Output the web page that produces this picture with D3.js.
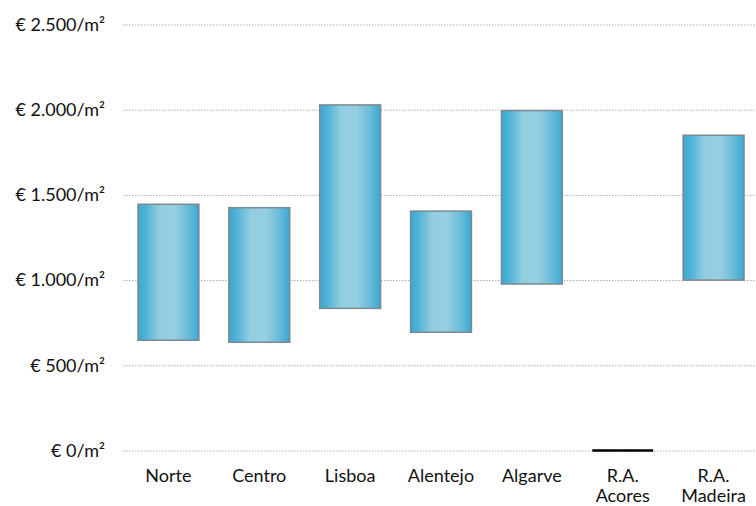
<!DOCTYPE html>
<html>
<head>
<meta charset="utf-8">
<script src="https://cdn.jsdelivr.net/npm/d3@7"></script>
<style>
  html, body { margin: 0; padding: 0; background: #fff; }
  svg text { font-family: Lato, "Open Sans", sans-serif; fill: #111; }
</style>
</head>
<body>
<svg id="chart" width="756" height="506"></svg>
<script>
// Price ranges per region (€/m²)
const regions = ["Norte", "Centro", "Lisboa", "Alentejo", "Algarve", "R.A. Acores", "R.A. Madeira"];
const regionLines = [["Norte"], ["Centro"], ["Lisboa"], ["Alentejo"], ["Algarve"], ["R.A.", "Acores"], ["R.A.", "Madeira"]];
const minPrice = [647, 635, 834, 694, 977, 0, 1000];
const maxPrice = [1445, 1425, 2028, 1405, 1995, 0, 1850];
const tickValues = [0, 500, 1000, 1500, 2000, 2500];
const tickLabels = ["€ 0/m²", "€ 500/m²", "€ 1.000/m²", "€ 1.500/m²", "€ 2.000/m²", "€ 2.500/m²"];

const svg = d3.select("#chart");

const x = d3.scaleBand().domain(regions).range([123, 759]).paddingInner(0.33).paddingOuter(0.165);
const y = d3.scaleLinear().domain([0, 2500]).range([450.5, 24.5]);

// Horizontal gradient for the bars
const grad = svg.append("defs").append("linearGradient")
  .attr("id", "barGrad").attr("x1", "0%").attr("x2", "100%").attr("y1", "0%").attr("y2", "0%");
[["0%", "#3aa8d1"], ["12%", "#4fb1d6"], ["35%", "#92cde0"], ["60%", "#96cfe1"], ["82%", "#6cbcd9"], ["100%", "#3aa8d1"]]
  .forEach(([o, c]) => grad.append("stop").attr("offset", o).attr("stop-color", c));

// Gridlines and y labels
const yAxis = d3.axisLeft(y).tickValues(tickValues)
  .tickFormat((d, i) => tickLabels[i]).tickSize(0).tickPadding(18);
const gy = svg.append("g").attr("transform", "translate(123,0)").call(yAxis);
gy.select(".domain").remove();
gy.selectAll(".tick text").attr("font-size", 18).attr("fill", "#111")
  .style("font-family", "Lato, 'Open Sans', sans-serif");
gy.selectAll(".tick").append("line")
  .attr("x1", 0).attr("x2", 756 - 123)
  .attr("stroke", "#adadad").attr("stroke-width", 1).attr("stroke-dasharray", "1.5,1.5");

// Range bars
const data = regions.map((r, i) => ({ r, lo: minPrice[i], hi: maxPrice[i] }));
svg.append("g").selectAll("rect")
  .data(data.filter(d => d.hi > d.lo))
  .join("rect")
  .attr("x", d => x(d.r))
  .attr("width", x.bandwidth())
  .attr("y", d => y(d.hi))
  .attr("height", d => y(d.lo) - y(d.hi))
  .attr("fill", "url(#barGrad)")
  .attr("stroke", "#7b8990")
  .attr("stroke-width", 1.5);

// Regions with an empty range are drawn as a flat line
svg.append("g").selectAll("line")
  .data(data.filter(d => d.hi <= d.lo))
  .join("line")
  .attr("x1", d => x(d.r))
  .attr("x2", d => x(d.r) + x.bandwidth())
  .attr("y1", d => y(d.lo)).attr("y2", d => y(d.lo))
  .attr("stroke", "#000").attr("stroke-width", 2.5);

// Category labels
const xl = svg.append("g").selectAll("text")
  .data(regions)
  .join("text")
  .attr("x", d => x(d) + x.bandwidth() / 2)
  .attr("y", 482)
  .attr("text-anchor", "middle")
  .attr("font-size", 18);
xl.each(function(d, i) {
  const t = d3.select(this);
  regionLines[i].forEach((ln, j) => {
    t.append("tspan").attr("x", x(d) + x.bandwidth() / 2).attr("dy", j === 0 ? 0 : 20).text(ln);
  });
});
</script>
</body>
</html>
